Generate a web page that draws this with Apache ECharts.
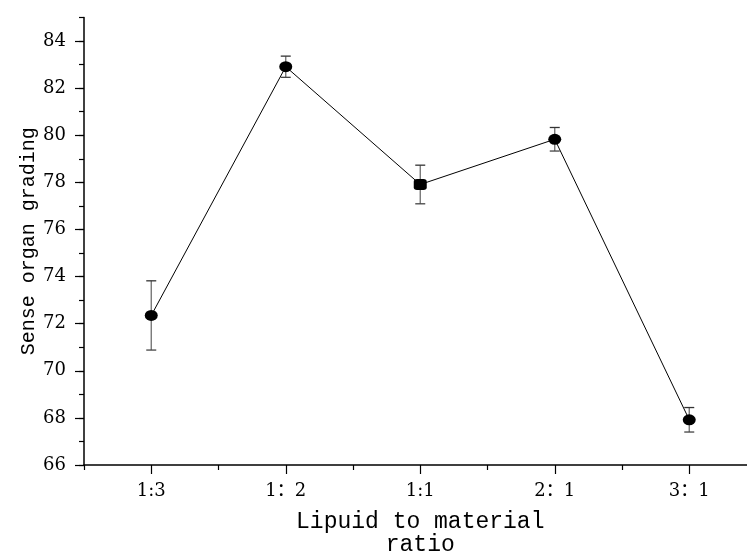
<!DOCTYPE html>
<html>
<head>
<meta charset="utf-8">
<script src="https://cdn.jsdelivr.net/npm/echarts@6/dist/echarts.min.js"></script>
<style>
html,body{margin:0;padding:0;background:#fff;}
#chart{width:747px;height:552px;}
</style>
</head>
<body>
<div id="chart"></div>
<script>
// Data
var categories = ['1:3', '1：2', '1:1', '2：1', '3：1'];
var means      = [72.35, 82.91, 77.91, 79.83, 67.92];
var errors     = [1.47, 0.45, 0.82, 0.50, 0.52];
var yTicks     = [66, 68, 70, 72, 74, 76, 78, 80, 82, 84];
var markerShapes = ['circle', 'circle', 'roundRect', 'circle', 'circle'];

var xTitle = 'Lipuid to material\nratio';
var yTitle = 'Sense organ grading';

var numFont = '"DejaVu Serif", "Noto Sans CJK SC", serif';
var titleFont = '"Liberation Mono", "Noto Sans CJK SC", monospace';

var lineData = means.map(function (v, i) {
  return { value: v, symbol: markerShapes[i] };
});
var errData = means.map(function (v, i) {
  return [i, v - errors[i], v + errors[i]];
});

var chart = echarts.init(document.getElementById('chart'));
var option = {
  backgroundColor: '#ffffff',
  animation: false,
  grid: [
    { left: 84, right: -9.5, top: 17.5, bottom: 87, containLabel: false, outerBoundsMode: 'none' },
    { left: 84, right: -9.5, top: 17.5 + 447.5 / 19, bottom: 87, containLabel: false, outerBoundsMode: 'none' }
  ],
  xAxis: [
    {
      type: 'category', gridIndex: 0, data: categories, boundaryGap: true,
      axisLine: { show: true, lineStyle: { color: '#000', width: 1.5 } },
      axisTick: { show: true, alignWithLabel: true, length: 9, lineStyle: { color: '#000', width: 1.2 } },
      axisLabel: { show: true, margin: 17, color: '#000', fontFamily: numFont, fontSize: 18 },
      name: xTitle, nameLocation: 'middle', nameGap: 45,
      nameTextStyle: { color: '#000', fontFamily: titleFont, fontSize: 23, lineHeight: 23 },
      splitLine: { show: false }
    },
    {
      type: 'category', gridIndex: 0, data: categories, boundaryGap: true, position: 'bottom',
      axisLine: { show: false },
      axisTick: { show: true, alignWithLabel: false, length: 5, lineStyle: { color: '#000', width: 1.2 } },
      axisLabel: { show: false },
      splitLine: { show: false }
    },
    {
      type: 'category', gridIndex: 1, data: categories, show: false
    }
  ],
  yAxis: [
    {
      type: 'value', gridIndex: 0, min: 66, max: 85, interval: 1,
      axisLine: { show: true, lineStyle: { color: '#000', width: 1.5 } },
      axisTick: { show: true, length: 5, lineStyle: { color: '#000', width: 1.2 } },
      axisLabel: { show: false },
      splitLine: { show: false },
      name: yTitle, nameLocation: 'middle', nameGap: 45,
      nameTextStyle: { color: '#000', fontFamily: titleFont, fontSize: 20 }
    },
    {
      type: 'value', gridIndex: 1, min: yTicks[0], max: yTicks[yTicks.length - 1], interval: 2,
      axisLine: { show: false },
      axisTick: { show: true, length: 9, lineStyle: { color: '#000', width: 1.2 } },
      axisLabel: { show: true, margin: 18, color: '#000', fontFamily: numFont, fontSize: 18 },
      splitLine: { show: false }
    }
  ],
  series: [
    {
      type: 'custom', xAxisIndex: 0, yAxisIndex: 0, z: 1,
      data: errData,
      renderItem: function (params, api) {
        var x = api.value(0);
        var lo = api.coord([x, api.value(1)]);
        var hi = api.coord([x, api.value(2)]);
        var hw = 5;
        return {
          type: 'group',
          children: [
            { type: 'line', shape: { x1: lo[0], y1: lo[1], x2: hi[0], y2: hi[1] }, style: { stroke: '#6e6e6e', lineWidth: 1.3 } },
            { type: 'line', shape: { x1: hi[0] - hw, y1: hi[1], x2: hi[0] + hw, y2: hi[1] }, style: { stroke: '#333', lineWidth: 1.3 } },
            { type: 'line', shape: { x1: lo[0] - hw, y1: lo[1], x2: lo[0] + hw, y2: lo[1] }, style: { stroke: '#444', lineWidth: 1.3 } }
          ]
        };
      }
    },
    {
      type: 'line', xAxisIndex: 0, yAxisIndex: 0, z: 3,
      data: lineData,
      symbolSize: [13, 11],
      lineStyle: { color: '#000', width: 1 },
      itemStyle: { color: '#000' }
    }
  ]
};
chart.setOption(option);
</script>
</body>
</html>
